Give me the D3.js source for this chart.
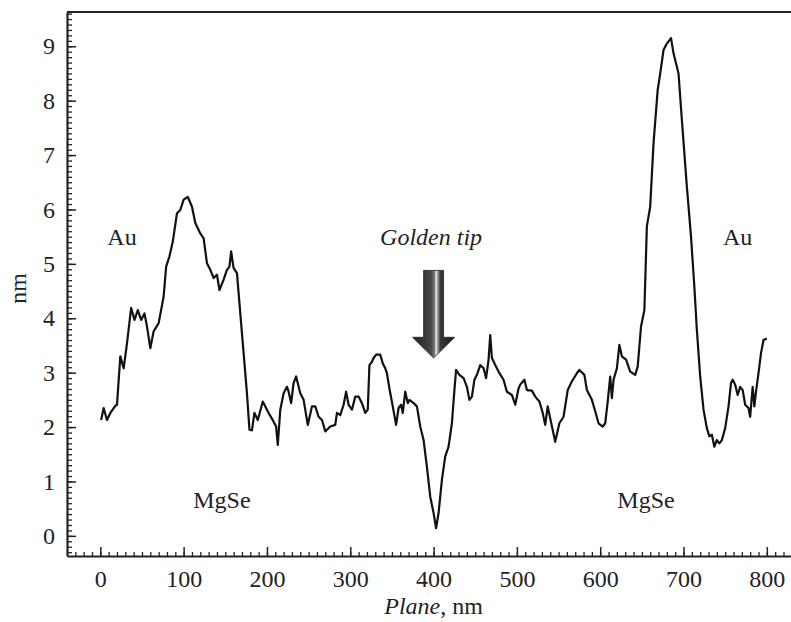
<!DOCTYPE html>
<html>
<head>
<meta charset="utf-8">
<style>
  body { margin:0; background:#fff; }
  svg, svg text { font-family:"Liberation Serif","Times New Roman",Tinos,"DejaVu Serif","Noto Serif",Times,serif !important; fill:#222; }
</style>
</head>
<body>
<div class="profile"></div>

<script src="https://d3js.org/d3.v7.min.js"></script>

<script>
// profile data (Plane in nm, height in nm)
const plane = [
  1,4,8,12,18,20,24,28,32,37,41,45,49,53,56,60,64,70,76,79,83,87,92,96,100,105,110,114,120,124,
  128,132,136,140,143,148,152,155,157,160,164,168,172,176,179,182,185,189,195,202,
  208,211,213,216,220,224,226,229,232,235,240,244,249,254,258,262,266,270,276,282,
  284,288,292,295,298,302,306,310,314,318,321,323,326,328,331,336,339,342,344,347,
  351,355,358,361,363,366,369,371,376,380,384,388,392,396,400,403,406,410,414,418,
  422,425,427,431,436,440,443,446,449,452,456,460,463,466,468,470,474,479,484,488,494,498,502,
  504,509,512,518,522,527,531,534,537,540,546,551,556,561,566,572,575,581,584,590,
  594,598,603,606,609,612,614,616,620,623,626,631,636,642,645,649,653,656,660,664,
  669,672,676,680,685,688,694,698,704,709,713,716,720,724,728,731,734,737,740,743,
  746,750,754,757,759,762,765,768,771,774,778,780,783,785,787,790,793,796,800
];
const height = [
  2.13,2.35,2.13,2.26,2.39,2.41,3.30,3.08,3.54,4.19,3.97,4.15,3.97,4.09,3.85,3.45,3.76,3.91,4.40,4.95,
  5.14,5.41,5.93,5.99,6.18,6.23,6.05,5.75,5.56,5.47,5.01,4.89,4.74,4.80,4.52,4.71,4.89,4.95,5.23,4.92,
  4.83,4.09,3.36,2.62,1.95,1.94,2.26,2.13,2.47,2.26,
  2.10,2.01,1.67,2.32,2.62,2.74,2.65,2.44,2.81,2.93,2.62,2.50,2.04,2.38,2.38,2.19,2.13,1.92,2.01,2.04,
  2.26,2.22,2.41,2.65,2.41,2.32,2.56,2.56,2.44,2.26,2.32,3.14,3.20,3.27,3.33,3.33,3.17,3.08,2.99,2.71,
  2.38,2.04,2.35,2.41,2.26,2.65,2.44,2.50,2.44,2.38,2.01,1.76,1.27,0.72,0.42,0.14,0.42,1.03,1.46,1.64,
  2.07,2.68,3.05,2.96,2.90,2.74,2.50,2.56,2.87,2.96,3.14,3.08,2.90,3.24,3.69,3.27,3.14,2.99,2.87,2.65,
  2.59,2.41,2.71,
  2.78,2.87,2.68,2.67,2.56,2.47,2.26,2.04,2.38,2.16,1.73,2.07,2.19,2.68,2.84,2.99,3.05,2.96,2.68,2.50,
  2.29,2.07,2.01,2.07,2.47,2.93,2.53,2.87,3.08,3.51,3.30,3.24,3.02,2.96,3.11,3.85,4.15,5.69,6.05,7.22,
  8.20,8.50,8.93,9.05,9.15,8.87,8.50,7.65,6.42,5.50,4.58,3.79,2.93,2.32,1.98,1.83,1.86,1.64,1.76,1.70,
  1.76,1.98,2.38,2.81,2.87,2.78,2.59,2.74,2.68,2.41,2.35,2.19,2.74,2.38,2.65,2.99,3.36,3.60,3.63
];

const xTicks = [0,100,200,300,400,500,600,700,800];
const yTicks = [0,1,2,3,4,5,6,7,8,9];
const xMinor = d3.range(-30, 821, 10);
const yMinor = d3.range(-3, 97).map(d => d / 10);

const labels = [
  {text:"Au", x:26, y:5.35, italic:false},
  {text:"Au", x:765, y:5.35, italic:false},
  {text:"Golden tip", x:397, y:5.35, italic:true},
  {text:"MgSe", x:146, y:0.51, italic:false},
  {text:"MgSe", x:655, y:0.51, italic:false}
];

const serif = "'Liberation Serif','Times New Roman',Tinos,'DejaVu Serif','Noto Serif',Times,serif";
const fs = 24;
const width = 791;
const height_px = 622;

const x = d3.scaleLinear().domain([-40, 829]).range([67, 791]);
const y = d3.scaleLinear().domain([-0.37, 9.63]).range([556, 12]);

const svg = d3.select(".profile")
  .append("svg")
    .attr("width", width)
    .attr("height", height_px)
    .attr("font-family", serif);

// top frame line
svg.append("line")
  .attr("x1", x(-40)).attr("x2", x(829))
  .attr("y1", y(9.63)).attr("y2", y(9.63))
  .attr("stroke", "#222").attr("stroke-width", 2);

// minor ticks
svg.append("g")
  .attr("transform", `translate(0,${y(-0.37)})`)
  .call(d3.axisBottom(x).tickValues(xMinor).tickSize(-4).tickFormat(""))
  .call(g => g.select(".domain").remove())
  .call(g => g.selectAll("line").attr("stroke", "#222").attr("stroke-width", 1.3));

svg.append("g")
  .attr("transform", `translate(${x(-40)},0)`)
  .call(d3.axisLeft(y).tickValues(yMinor).tickSize(-5).tickFormat(""))
  .call(g => g.select(".domain").remove())
  .call(g => g.selectAll("line").attr("stroke", "#222").attr("stroke-width", 1.3));

// major axes
svg.append("g")
  .attr("transform", `translate(0,${y(-0.37)})`)
  .call(d3.axisBottom(x).tickValues(xTicks).tickSizeInner(-9).tickSizeOuter(0).tickPadding(14))
  .call(g => g.attr("font-family", serif))
  .call(g => g.select(".domain").attr("stroke", "#222").attr("stroke-width", 2.2))
  .call(g => g.selectAll("line").attr("stroke", "#222").attr("stroke-width", 1.5))
  .call(g => g.selectAll("text").attr("font-size", fs).attr("fill", "#222"));

svg.append("g")
  .attr("transform", `translate(${x(-40)},0)`)
  .call(d3.axisLeft(y).tickValues(yTicks).tickSizeInner(-9).tickSizeOuter(0).tickPadding(12))
  .call(g => g.attr("font-family", serif))
  .call(g => g.select(".domain").attr("stroke", "#222").attr("stroke-width", 2.2))
  .call(g => g.selectAll("line").attr("stroke", "#222").attr("stroke-width", 1.5))
  .call(g => g.selectAll("text").attr("font-size", fs).attr("fill", "#222"));

// axis titles
const xt = svg.append("text")
  .attr("x", x(400)).attr("y", 614)
  .attr("text-anchor", "middle")
  .attr("font-size", fs);
xt.append("tspan").attr("font-style", "italic").text("Plane");
xt.append("tspan").text(", nm");

svg.append("text")
  .attr("transform", `translate(26,${y(4.55)}) rotate(-90)`)
  .attr("text-anchor", "middle")
  .attr("font-size", fs)
  .text("nm");

// profile line
const line = d3.line()
  .x((d, i) => x(plane[i]))
  .y(d => y(d));

svg.append("path")
  .datum(height)
  .attr("d", line)
  .attr("fill", "none")
  .attr("stroke", "#111")
  .attr("stroke-width", 2.2)
  .attr("stroke-linejoin", "round");

// region labels
svg.append("g").selectAll("text")
  .data(labels)
  .enter().append("text")
    .attr("x", d => x(d.x))
    .attr("y", d => y(d.y))
    .attr("text-anchor", "middle")
    .attr("font-size", fs)
    .attr("font-style", d => d.italic ? "italic" : "normal")
    .text(d => d.text);

// shaded arrow marking the tip
const defs = svg.append("defs");
const grad = defs.append("linearGradient")
  .attr("id", "arrowShade")
  .attr("x1", "0%").attr("x2", "100%").attr("y1", "0%").attr("y2", "0%");
[[0,"#1c1c1c"],[0.3,"#3a3a3a"],[0.45,"#4a4a4a"],[0.52,"#777"],[0.56,"#eee"],[0.6,"#999"],[0.66,"#3a3a3a"],[1,"#1a1a1a"]]
  .forEach(s => grad.append("stop").attr("offset", s[0]).attr("stop-color", s[1]));

const ax = x(400), shaftTop = y(4.88), headTop = y(3.65), tipY = y(3.27);
svg.append("path")
  .attr("d", `M${ax-10},${shaftTop} L${ax+10},${shaftTop} L${ax+10},${headTop}
              L${ax+21},${headTop} L${ax},${tipY} L${ax-21},${headTop} L${ax-10},${headTop} Z`)
  .attr("fill", "url(#arrowShade)")
  .attr("stroke", "#222")
  .attr("stroke-width", 0.8);
</script>
</body>
</html>
